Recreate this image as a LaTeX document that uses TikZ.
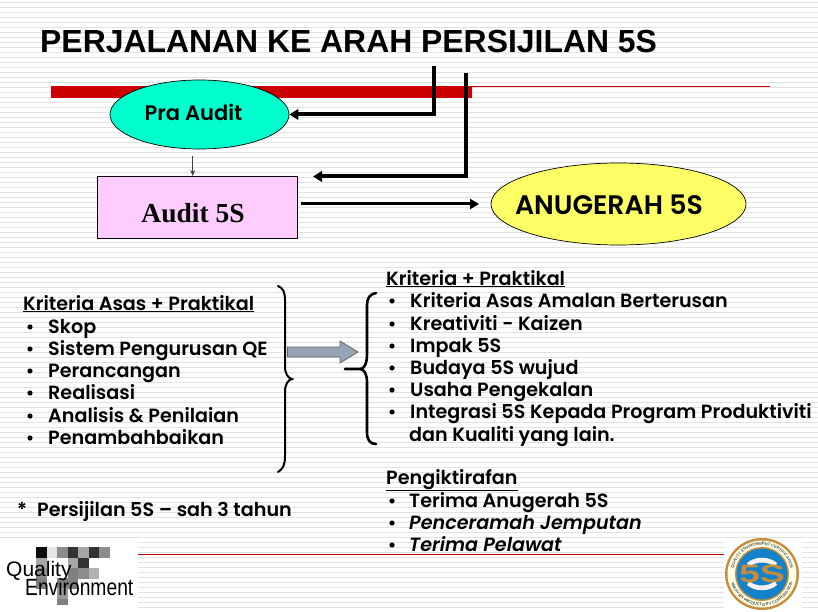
\documentclass[tikz,border=0pt]{standalone}
\usepackage{fontspec}
\setmainfont{Poppins}[BoldFont={Poppins SemiBold},ItalicFont={Poppins Italic},BoldItalicFont={Poppins SemiBold Italic}]
\newfontfamily\titlefont{Liberation Sans}
\newfontfamily\seriffont{Liberation Serif}
\usetikzlibrary{arrows.meta,shapes.geometric,decorations.text}
\definecolor{stripe}{RGB}{226,226,226}
\definecolor{redbar}{RGB}{204,0,0}
\definecolor{cyanfill}{RGB}{0,255,204}
\definecolor{pinkfill}{RGB}{255,204,255}
\definecolor{yellowfill}{RGB}{255,255,102}
\definecolor{steel}{RGB}{150,165,182}
\definecolor{gold}{RGB}{196,140,60}
\definecolor{sealblue}{RGB}{20,130,200}
\tikzset{
 x=1pt,y=-1pt,
 body/.style={font=\fontsize{19.15}{20}\selectfont\bfseries,anchor=base west,inner sep=0pt,text=black},
 bodyit/.style={font=\fontsize{19.15}{20}\selectfont\bfseries\itshape,anchor=base west,inner sep=0pt,text=black},
 heavyarrow/.style={line width=4pt,-{Triangle[length=9pt,width=10.5pt]}},
 brace/.style={line width=2pt,line cap=round},
}
\begin{document}
\begin{tikzpicture}
\useasboundingbox (0,0) rectangle (818,612);
\fill[white] (0,0) rectangle (818,612);
\foreach \yy in {2.5,7.5,...,610} \draw[stripe,line width=1.4pt] (0,\yy) -- (818,\yy);
% logo panels
\fill[white] (0,538) rectangle (138,612);
\fill[white] (724,539) rectangle (802,612);
% title
\node[font=\titlefont\fontsize{31.9}{32}\selectfont\bfseries,anchor=base west,inner sep=0pt] (title) at (40,53) {PERJALANAN KE ARAH PERSIJILAN 5S};
% red rule
\fill[redbar] (51,86) rectangle (472,98);
\draw[redbar,line width=1pt] (472,87) -- (770,87);
% nodes
\node[ellipse,draw=black,line width=0.7pt,fill=cyanfill,minimum width=179pt,minimum height=69pt,inner sep=0pt] (pra) at (199.5,114.5) {};
\node[font=\fontsize{21}{22}\selectfont\bfseries,inner sep=0pt] (pralab) at (193.5,112) {Pra Audit};
\node[draw=black,line width=0.8pt,fill=pinkfill,minimum width=200pt,minimum height=61.5pt,inner sep=0pt] (audit) at (197,207.5) {};
\node[font=\seriffont\fontsize{27.5}{28}\selectfont\bfseries,inner sep=0pt] (auditlab) at (193,213) {Audit 5S};
\node[ellipse,draw=black,line width=0.7pt,fill=yellowfill,minimum width=255pt,minimum height=82pt,inner sep=0pt] (anug) at (618.5,204) {};
\node[font=\fontsize{26.8}{27}\selectfont\bfseries,inner sep=0pt] (anuglab) at (609,205) {ANUGERAH 5S};
% connectors
\coordinate (s1) at (434,66); \coordinate (c1) at (434,114.5);
\coordinate (s2) at (465.5,73); \coordinate (c2) at (465.5,176.5);
\coordinate (e2) at (313,176.5);
\coordinate (a1) at (192.7,156); \coordinate (a2) at (192.7,176);
\coordinate (b1) at (301,204); \coordinate (b2) at (479,204);
\draw[heavyarrow] (s1) -- (c1) -- (pra.east);
\draw[heavyarrow] (s2) -- (c2) -- (e2);
\draw[line width=0.7pt,-{Stealth[length=6pt,width=5pt]},black!75] (a1) -- (a2);
\draw[line width=3pt,-{Triangle[length=9pt,width=10pt]}] (b1) -- (b2);
% left brace
\draw[brace] (278,286) .. controls (283,288) and (285,292) .. (285,300) -- (285,366) .. controls (285,374) and (288,378) .. (292,379)
 .. controls (288,380) and (285,384) .. (285,392) -- (285,456) .. controls (285,465) and (283,469) .. (278,472);
% block arrow
\draw[draw=black!60,line width=0.8pt,fill=steel] (287.5,347) -- (340,347) -- (340,341) -- (358,352) -- (340,363) -- (340,357) -- (287.5,357) -- cycle;
% right brace
\draw[brace,line width=2.6pt] (376,293) .. controls (370,294) and (367,298) .. (367,305) -- (367,354) .. controls (367,364) and (364,369) .. (360,369) -- (345,369)
 (360,369) .. controls (364,369) and (367,374) .. (367,382) -- (367,432) .. controls (367,440) and (370,444) .. (376,444);
% left list
\node[body] at (23,310) {\underline{Kriteria Asas + Praktikal}};
\foreach \yy/\tt in {333/Skop,355/Sistem Pengurusan QE,377/Perancangan,399/Realisasi,422/Analisis \& Penilaian,444/Penambahbaikan}{
  \node[body] at (48,\yy) {\tt};
  \fill (30,\yy-6) circle (2.6pt);
}
\node[body] at (17,516) {*\hspace{10pt}Persijilan 5S – sah 3 tahun};
% right list
\node[body] at (386,285) {\underline{Kriteria + Praktikal}};
\foreach \yy/\tt in {307/Kriteria Asas Amalan Berterusan,330/Kreativiti - Kaizen,352/Impak 5S,374/Budaya 5S wujud,396/Usaha Pengekalan,418/Integrasi 5S Kepada Program Produktiviti}{
  \node[body] at (410,\yy) {\tt};
  \fill (392,\yy-6) circle (2.6pt);
}
\node[body] at (409,441) {dan Kualiti yang lain.};
\node[body] at (386,484) {\underline{Pengiktirafan}};
\node[body] at (409,507) {Terima Anugerah 5S};
\fill (392,501) circle (2.6pt);
\node[bodyit] at (409,529) {Penceramah Jemputan};
\fill (392,523) circle (2.6pt);
\node[bodyit] at (409,551) {Terima Pelawat};
\fill (392,545) circle (2.6pt);
% footer rule
\draw[redbar,line width=1pt] (138,554) -- (724,554);
% logo left
\foreach \xx/\yy/\gg in {36/547/95,46.5/547/10,57/547/45,67.5/547/80,78/547/35,88.5/547/80,99/547/45,
 36/557.5/35,67.5/557.5/35,78/557.5/80,
 36/568/45,67.5/568/50,78/568/45,88.5/568/30,
 57/578/50,67.5/578/50,36/578/50,
 57/594/50,57/588/40}
 \fill[black!\gg] (\xx,\yy) rectangle ++(10.5,10.5);
\node[font=\titlefont\fontsize{21}{21}\selectfont,anchor=base west,inner sep=0pt] (q) at (6,576) {Quality};
\node[font=\titlefont\fontsize{23.5}{24}\selectfont,anchor=base west,inner sep=0pt,xscale=0.82] (env) at (25,595) {Environment};
% seal
\fill[gold] (762,574) ellipse (37pt and 36pt);
\fill[white!90!yellow] (762,574) ellipse (34.5pt and 33.5pt);
\fill[gold] (762,574) circle (27pt);
\fill[sealblue] (762,574) circle (25.5pt);
\path[postaction={decorate,decoration={text along path,text align=center,text={|\titlefont\fontsize{4}{5}\selectfont|QUALITY ENVIRONMENT CERTIFICATION}}}] (733,574) arc[start angle=180,end angle=360,radius=29pt,y radius=-29pt];
\path[postaction={decorate,decoration={text along path,text align=center,text={|\titlefont\fontsize{4}{5}\selectfont|MALAYSIA PRODUCTIVITY CORPORATION}}}] (730,574) arc[start angle=180,end angle=0,radius=32pt,y radius=-32pt];
\fill[white!80!pink] (747,563) .. controls (755,556) and (769,556) .. (777,563) -- (775,567) .. controls (768,561) and (756,561) .. (749,567) -- cycle;
\fill[white!80!pink] (747,585) .. controls (755,592) and (769,592) .. (777,585) -- (775,581) .. controls (768,587) and (756,587) .. (749,581) -- cycle;
\node[font=\titlefont\fontsize{25}{25}\selectfont\bfseries,text=gold,inner sep=0pt,xscale=1.5] (five) at (762,574) {5S};
\end{tikzpicture}
\end{document}
